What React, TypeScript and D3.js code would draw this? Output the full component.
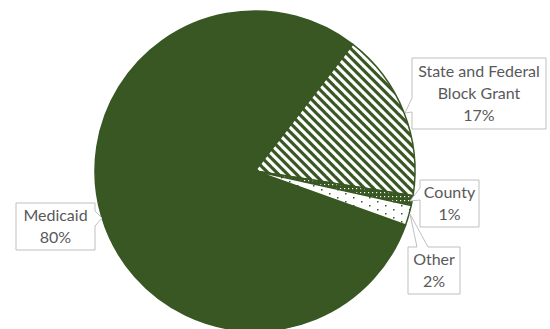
import React from "react";
import * as d3 from "d3";

const categories = ["Medicaid", "State and Federal Block Grant", "County", "Other"];
const values = [80, 17, 1, 2];
const labelLines = [["Medicaid", "80%"], ["State and Federal", "Block Grant", "17%"], ["County", "1%"], ["Other", "2%"]];

const W = 550, H = 329;
const cx = 255, cy = 171, R = 160;
const GREEN = "#385723";
const TEXT = "#595959";

// callout boxes: x, y, w, h, wedge side, wedge base (a,b along edge), tip
const boxes = [
  { x: 16, y: 203, w: 79, h: 47, side: "right", a: 211, b: 226, tip: [102, 218] },
  { x: 412, y: 58, w: 134, h: 71, side: "left", a: 98, b: 112, tip: [405, 113] },
  { x: 420, y: 180, w: 59, h: 47, side: "left", a: 188, b: 200, tip: [410, 201] },
  { x: 408, y: 247, w: 52, h: 47, side: "top", a: 417, b: 428, tip: [410, 214] },
];

function calloutPath(bx: any) {
  const { x, y, w, h, side, a, b, tip } = bx;
  const p = d3.path();
  p.moveTo(x, y);
  if (side === "top") { p.lineTo(a, y); p.lineTo(tip[0], tip[1]); p.lineTo(b, y); }
  p.lineTo(x + w, y);
  if (side === "right") { p.lineTo(x + w, a); p.lineTo(tip[0], tip[1]); p.lineTo(x + w, b); }
  p.lineTo(x + w, y + h);
  p.lineTo(x, y + h);
  if (side === "left") { p.lineTo(x, b); p.lineTo(tip[0], tip[1]); p.lineTo(x, a); }
  p.closePath();
  return p.toString();
}

const fills = [GREEN, "url(#hatch)", "url(#dense)", "url(#sparse)"];

export default function App() {
  const blockStart = (37.7 * Math.PI) / 180;
  const start = blockStart - (values[0] / d3.sum(values)) * 2 * Math.PI;
  const pie = d3.pie<number>().sort(null).startAngle(start).endAngle(start + 2 * Math.PI);
  const arcs = pie(values);
  const arc = d3.arc<d3.PieArcDatum<number>>().innerRadius(0).outerRadius(R);
  const lh = 22;
  return (
    <svg width={W} height={H} style={{ position: "absolute", left: 0, top: 0 }} fontFamily="Lato, 'Liberation Sans', sans-serif">
      <defs>
        <pattern id="hatch" width={9} height={9} patternUnits="userSpaceOnUse">
          <rect width={9} height={9} fill="#fff" />
          <polygon points="0,0 4.5,0 9,4.5 9,9" fill={GREEN} />
          <polygon points="0,4.5 4.5,9 0,9" fill={GREEN} />
        </pattern>
        <pattern id="dense" width={4} height={4} patternUnits="userSpaceOnUse">
          <rect width={4} height={4} fill={GREEN} />
          <rect x={1} y={1} width={1.2} height={1.2} fill="#fff" />
        </pattern>
        <pattern id="sparse" width={16} height={8} patternUnits="userSpaceOnUse">
          <rect width={16} height={8} fill="#fff" />
          <rect x={2} y={2} width={1.5} height={1.5} fill={GREEN} />
          <rect x={10} y={6} width={1.5} height={1.5} fill={GREEN} />
        </pattern>
      </defs>
      <g transform={`translate(${cx},${cy})`}>
        {arcs.map((d, i) => (
          <path key={categories[i]} d={arc(d) || ""} fill={fills[i]} stroke={GREEN} strokeWidth={1.5} strokeLinejoin="round" />
        ))}
      </g>
      {boxes.map((bx, i) => {
        const lines = labelLines[i];
        const mid = bx.y + bx.h / 2;
        const first = mid - ((lines.length - 1) * lh) / 2;
        return (
          <g key={categories[i]}>
            <path d={calloutPath(bx)} fill="#fff" stroke="#bfbfbf" strokeWidth={1} />
            {lines.map((t, j) => (
              <text key={j} x={bx.x + bx.w / 2} y={first + j * lh} dy="0.35em" textAnchor="middle" fontSize={16} fill={TEXT}>
                {t}
              </text>
            ))}
          </g>
        );
      })}
    </svg>
  );
}
